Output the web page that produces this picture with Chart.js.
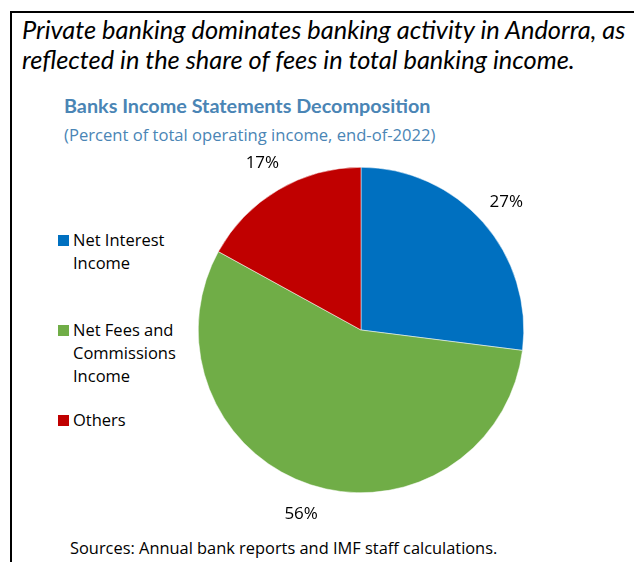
<!DOCTYPE html>
<html>
<head>
<meta charset="utf-8">
<script src="https://cdn.jsdelivr.net/npm/chart.js@4"></script>
<style>
  body { margin: 0; background: #fff; font-family: "Open Sans", sans-serif; }
  #page { position: relative; width: 634px; height: 562px; overflow: hidden; }
  #frame { position: absolute; left: 10px; top: 11px; width: 640px; height: 600px;
           border-top: 2px solid #000; border-left: 2px solid #000; }
  #headline { position: absolute; left: 22px; top: 14px; font-family: "Lato", sans-serif;
              font-style: italic; font-size: 25.4px; line-height: 30px; color: #000; }
  #title { position: absolute; left: 64px; top: 93px; font-family: "Lato", sans-serif;
           font-weight: bold; font-size: 19.8px; color: #4a85b5; }
  #subtitle { position: absolute; left: 64px; top: 123px; font-size: 16.6px; color: #4a85b5; }
  #legend { position: absolute; left: 58px; top: 228px; }
  .item { position: relative; height: 90px; }
  .box { position: absolute; left: 0; top: 7px; width: 11px; height: 11px; }
  .txt { position: absolute; left: 15px; top: 0; width: 120px; font-size: 16.5px;
         line-height: 23px; color: #000; }
  #sources { position: absolute; left: 70px; top: 536px; font-size: 16.4px; color: #000; }
  #wrap { position: absolute; left: 161px; top: 130px; width: 400px; height: 400px; }
</style>
</head>
<body>
<div id="page">
  <div id="frame"></div>
  <div id="headline">Private banking dominates banking activity in Andorra, as<br>reflected in the share of fees in total banking income.</div>
  <div id="title">Banks Income Statements Decomposition</div>
  <div id="subtitle">(Percent of total operating income, end-of-2022)</div>
  <div id="legend"></div>
  <div id="wrap"><canvas id="pie"></canvas></div>
  <div id="sources">Sources: Annual bank reports and IMF staff calculations.</div>
</div>
<script>
const categories = ['Net Interest Income', 'Net Fees and Commissions Income', 'Others']
const shares = [27, 56, 17]
const colors = ['#0070c0', '#70ad47', '#c00000']

// legend on the left, one block per slice
let legend = document.querySelector('#legend')
categories.forEach((name, i) => {
    let item = document.createElement('div')
    item.className = 'item'
    item.innerHTML = '<span class="box" style="background:' + colors[i] + '"></span><span class="txt">' + name + '</span>'
    legend.appendChild(item)
})

// percent labels placed just outside each slice
const outsideLabels = {
    id: 'outsideLabels',
    afterDatasetsDraw(chart) {
        let ctx = chart.ctx
        let meta = chart.getDatasetMeta(0)
        ctx.save()
        ctx.font = '17px "Open Sans"'
        ctx.fillStyle = '#000'
        ctx.textAlign = 'center'
        ctx.textBaseline = 'middle'
        meta.data.forEach((arc, i) => {
            let p = arc.getProps(['x', 'y', 'startAngle', 'endAngle', 'outerRadius'], true)
            let mid = (p.startAngle + p.endAngle) / 2
            let r = p.outerRadius + 31
            ctx.fillText(shares[i] + '%', p.x + Math.cos(mid) * r, p.y + Math.sin(mid) * r)
        })
        ctx.restore()
    }
}

new Chart(document.querySelector('#pie'), {
    type: 'pie',
    data: {
        labels: categories,
        datasets: [{
            data: shares,
            backgroundColor: colors,
            borderColor: '#fff',
            borderWidth: 0.5
        }]
    },
    options: {
        responsive: true,
        maintainAspectRatio: false,
        animation: false,
        layout: { padding: 37 },
        plugins: {
            legend: { display: false },
            tooltip: { enabled: false }
        }
    },
    plugins: [outsideLabels]
})
</script>
</body>
</html>
